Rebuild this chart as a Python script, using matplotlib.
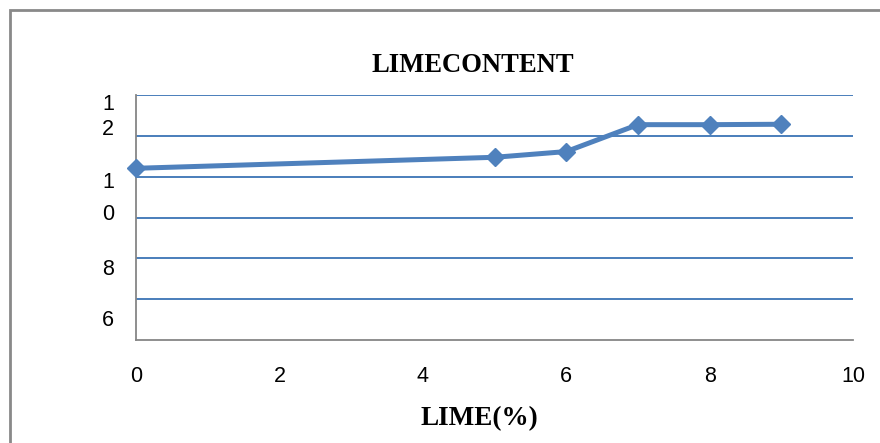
import matplotlib.pyplot as plt
from matplotlib.patches import Rectangle

# data
lime = [0, 5, 6, 7, 8, 9]
content = [10.21, 10.48, 10.62, 11.28, 11.28, 11.29]

xticks = [0, 2, 4, 6, 8, 10]
# the y labels are wrapped digit by digit in the original
ylab_txt = ['1', '2', '1', '0', '8', '6']
ylab_pos = [11.84, 11.23, 9.92, 9.14, 7.79, 6.53]

blue = '#4F81BD'
grey = '#868686'
tickfont = ['Liberation Sans', 'DejaVu Sans']

fig = plt.figure(figsize=(8.8, 4.43), dpi=100)
ax = fig.add_axes([136/880, 1-340/443, (853-136)/880, (340-95.3)/443])

ax.plot(lime, content, color=blue, lw=3.6, marker='D', ms=9, mec=blue, mfc=blue, clip_on=False, zorder=3)

ax.set_xlim(0, 10)
ax.set_ylim(6, 12)
ax.set_xticks(xticks)
ax.set_xticklabels([str(t) for t in xticks], family=tickfont, fontsize=15.5)
ax.set_yticks(ylab_pos)
ax.set_yticklabels(ylab_txt, family=tickfont, fontsize=15.5)
ax.tick_params(length=0)
ax.tick_params(axis='x', pad=19)
ax.tick_params(axis='y', pad=16)

# gridlines every 1 unit
for g in range(7, 13):
    ax.axhline(g, color='#4A7EBB', lw=1.4, zorder=1)

for s in ['top', 'right']:
    ax.spines[s].set_visible(False)
for s in ['left', 'bottom']:
    ax.spines[s].set_color(grey)
    ax.spines[s].set_linewidth(1.3)

fig.text(473/880, 1-66/443, 'LIMECONTENT', ha='center', va='center',
         family='Liberation Serif', weight='bold', fontsize=19.2)
fig.text(479/880, 1-419/443, 'LIME(%)', ha='center', va='center',
         family='Liberation Serif', weight='bold', fontsize=19.5)

# outer chart border, runs off the image on right and bottom
fig.add_artist(Rectangle((10/880, -0.1), 1.0, 1-10/443+0.1, transform=fig.transFigure,
                         fill=False, edgecolor='#898989', lw=2))

fig.savefig('out.png', dpi=100)
